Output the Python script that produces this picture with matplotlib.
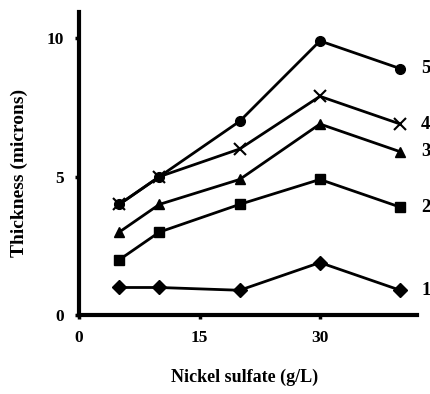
import numpy as np
import matplotlib.pyplot as plt

plt.rcParams['font.family'] = ['Liberation Serif', 'DejaVu Serif']
plt.rcParams['font.weight'] = 'bold'

sulfate = [5, 10, 20, 30, 40]
series_names = ['1', '2', '3', '4', '5']
thick_1 = [1.0, 1.0, 0.9, 1.9, 0.9]
thick_2 = [2.0, 3.0, 4.0, 4.9, 3.9]
thick_3 = [3.0, 4.0, 4.9, 6.9, 5.9]
thick_4 = [4.0, 5.0, 6.0, 7.9, 6.9]
thick_5 = [4.0, 5.0, 7.0, 9.9, 8.9]
markers = ['D', 's', '^', 'x', 'o']

fig = plt.figure(figsize=(4.3, 3.94), dpi=100)
ax = fig.add_axes([0.184, 0.200, 0.786, 0.770])

all_series = [thick_1, thick_2, thick_3, thick_4, thick_5]
for vals, m, name in zip(all_series, markers, series_names):
    ms = 7 if m != 'x' else 9
    ax.plot(sulfate, vals, color='black', lw=2, marker=m, ms=ms,
            mew=1.5 if m == 'x' else 1)
    ax.text(sulfate[-1] + 2.6, vals[-1], name, fontsize=13.5, fontweight='bold',
            ha='left', va='center')

ax.set_xlim(0, 42.1)
ax.set_ylim(0, 10.95)
ax.set_xticks([0, 15, 30])
ax.set_yticks([0, 5, 10])
ax.tick_params(width=2.5, length=3, labelsize=12.5, pad=8)

for side in ['top', 'right']:
    ax.spines[side].set_visible(False)
for side in ['left', 'bottom']:
    ax.spines[side].set_linewidth(3)

ax.set_xlabel('Nickel sulfate (g/L)', fontsize=13, fontweight='bold')
ax.xaxis.set_label_coords(0.49, -0.175)
ax.set_ylabel('Thickness (microns)', fontsize=14, fontweight='bold')
ax.yaxis.set_label_coords(-0.15, 0.47)

fig.savefig('out.png', dpi=100)
